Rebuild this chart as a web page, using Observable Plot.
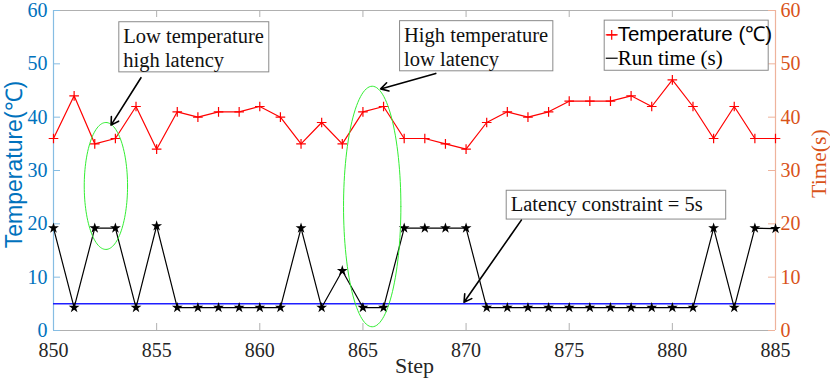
<!DOCTYPE html>
<html>
<head>
<meta charset="utf-8">
<script src="https://cdn.jsdelivr.net/npm/d3@7"></script>
<script src="https://cdn.jsdelivr.net/npm/@observablehq/plot@0.6"></script>
<style>
  html, body { margin: 0; padding: 0; background: #fff; }
  #chart svg { display: block; }
</style>
</head>
<body>
<div id="chart"></div>
<script>
// ---- data ----
const steps = [850,851,852,853,854,855,856,857,858,859,860,861,862,863,864,865,866,867,
               868,869,870,871,872,873,874,875,876,877,878,879,880,881,882,883,884,885];
const temperature = [36,44,35,36,42,34,41,40,41,41,42,40,35,39,35,41,42,36,
                     36,35,34,39,41,40,41,43,43,43,44,42,47,42,36,42,36,36];
const runTime = [19.2,4.3,19.2,19.2,4.3,19.6,4.3,4.3,4.3,4.3,4.3,4.3,19.2,4.3,11.2,4.3,4.3,19.2,
                 19.2,19.2,19.2,4.3,4.3,4.3,4.3,4.3,4.3,4.3,4.3,4.3,4.3,4.3,19.2,4.3,19.2,19.1];
const latencyConstraint = [5];
const xTicks = [850,855,860,865,870,875,880,885];
const leftTicks = [0,10,20,30,40,50,60];
const rightTicks = [0,10,20,30,40,50,60];
const seriesNames = ["Temperature (℃)", "Run time (s)"];
const annotationTexts = ["Low temperature\nhigh latency", "High temperature\nlow latency", "Latency constraint = 5s"];
// highlighted regions: center step, center value, radius in steps, radius in value
const highlightEllipses = [
  {cx: 852.54, cy: 27.1, rx: 1.05, ry: 11.9},
  {cx: 865.45, cy: 23.25, rx: 1.39, ry: 22.55}
];

const tempData = steps.map((s, i) => ({step: s, value: temperature[i]}));
const runData = steps.map((s, i) => ({step: s, value: runTime[i]}));

const angles = d3.range(0, 361, 3).map(a => a * Math.PI / 180);
const ellipsePts = highlightEllipses.flatMap((e, k) =>
  angles.map(t => ({k, step: e.cx + e.rx * Math.cos(t), value: e.cy + e.ry * Math.sin(t)})));

const BLUE = "#0072BD", ORANGE = "#D95319";
const SERIF = "Liberation Serif, Times New Roman, serif";
const SANS = "Liberation Sans, Arial, sans-serif";
const FW = 722, FH = 320; // frame size

const boxes = [
  {x1: 853.19, x2: 860.46, y1: 48.4, y2: 57.8, text: annotationTexts[0]},
  {x1: 866.80, x2: 874.23, y1: 48.6, y2: 58.0, text: annotationTexts[1]},
  {x1: 871.97, x2: 882.61, y1: 20.8, y2: 26.2, text: annotationTexts[2]}
];
const arrows = [
  {x1: 854.24, y1: 47.4, x2: 852.79, y2: 38.5},
  {x1: 868.53, y1: 48.2, x2: 865.86, y2: 45.3},
  {x1: 872.68, y1: 20.7, x2: 869.90, y2: 5.3}
];
const legendBox = {x1: 876.72, x2: 884.67, y1: 48.7, y2: 58.1};

const chart = Plot.plot({
  width: 830,
  height: 385,
  marginLeft: 53,
  marginRight: 55,
  marginTop: 10,
  marginBottom: 55,
  x: {domain: [850, 885]},
  y: {domain: [0, 60]},
  style: {fontFamily: SERIF, fontSize: "20px", background: "#fff", overflow: "visible"},
  marks: [
    // frame top / bottom
    Plot.ruleY([0], {stroke: "#b0b0b0", strokeWidth: 1}),
    Plot.ruleY([60], {stroke: "#b0b0b0", strokeWidth: 1}),
    // inward ticks
    Plot.tickX(xTicks, {x: d => d, stroke: "#b0b0b0", insetTop: FH - 7}),
    Plot.tickX(xTicks, {x: d => d, stroke: "#b0b0b0", insetBottom: FH - 7}),
    Plot.tickY(leftTicks, {y: d => d, stroke: "#86bde3", insetRight: FW - 7}),
    Plot.tickY(rightTicks, {y: d => d, stroke: "#eeb39c", insetLeft: FW - 7}),
    // side axis lines
    Plot.ruleX([850], {stroke: "#86bde3", strokeWidth: 1.2}),
    Plot.ruleX([885], {stroke: "#eeb39c", strokeWidth: 1.2}),
    // axes labels
    Plot.axisX({ticks: xTicks, tickSize: 0, tickPadding: 12, fontSize: 20, fill: "#262626", label: null, fontFamily: SERIF}),
    Plot.axisY({anchor: "left", ticks: leftTicks, tickSize: 0, tickPadding: 6, fontSize: 20, fill: BLUE, label: null, fontFamily: SERIF}),
    Plot.axisY({anchor: "right", ticks: rightTicks, tickSize: 0, tickPadding: 5, fontSize: 20, fill: ORANGE, label: null, fontFamily: SERIF}),
    Plot.text(["Step"], {frameAnchor: "bottom", dy: 42, fontSize: 22, fill: "#262626", fontFamily: SERIF}),
    Plot.text(["Temperature(℃)"], {frameAnchor: "left", textAnchor: "middle", rotate: -90, dx: -39, dy: -6, fontSize: 23, fill: BLUE, fontFamily: SANS}),
    Plot.text(["Time(s)"], {frameAnchor: "right", textAnchor: "middle", rotate: -90, dx: 43, dy: -7, fontSize: 22, fill: ORANGE, fontFamily: SERIF}),
    // constraint
    Plot.ruleY(latencyConstraint, {y: d => d, stroke: "#1f1fff", strokeWidth: 1.5}),
    // series
    Plot.line(tempData, {x: "step", y: "value", stroke: "#ff0000", strokeWidth: 1.2}),
    Plot.dot(tempData, {x: "step", y: "value", symbol: "plus", stroke: "#ff0000", r: 3.2, strokeWidth: 1.2}),
    Plot.line(runData, {x: "step", y: "value", stroke: "#000", strokeWidth: 1.2}),
    Plot.dot(runData, {x: "step", y: "value", symbol: "star", fill: "#000", r: 3.4}),
    // ellipses
    Plot.line(ellipsePts, {x: "step", y: "value", z: "k", stroke: "#33ee33", strokeWidth: 1, curve: "linear"}),
    // annotation boxes
    Plot.rect(boxes, {x1: "x1", x2: "x2", y1: "y1", y2: "y2", fill: "#fff", stroke: "#8a8a8a", strokeWidth: 1}),
    Plot.text(boxes, {x: "x1", y: "y2", text: "text", textAnchor: "start", lineAnchor: "top", dx: 4, dy: 3, lineHeight: 1.2, fontSize: 20.5, fill: "#111", fontFamily: SERIF}),
    Plot.arrow(arrows, {x1: "x1", y1: "y1", x2: "x2", y2: "y2", stroke: "#000", strokeWidth: 1.6, headLength: 8}),
    // legend
    Plot.rect([legendBox], {x1: "x1", x2: "x2", y1: "y1", y2: "y2", fill: "#fff", stroke: "#8a8a8a", strokeWidth: 1}),
    Plot.link([{x1: 876.77, x2: 877.35, y: 55.44}], {x1: "x1", x2: "x2", y1: "y", y2: "y", stroke: "#ff0000", strokeWidth: 1.2}),
    Plot.dot([{x: 877.06, y: 55.44}], {x: "x", y: "y", symbol: "plus", stroke: "#ff0000", r: 3.2, strokeWidth: 1.2}),
    Plot.link([{x1: 876.77, x2: 877.35, y: 51.05}], {x1: "x1", x2: "x2", y1: "y", y2: "y", stroke: "#000", strokeWidth: 1.2}),
    Plot.text([seriesNames[0]], {x: 877.35, y: 55.44, textAnchor: "start", fontSize: 20.5, fill: "#000", fontFamily: SANS}),
    Plot.text([seriesNames[1]], {x: 877.35, y: 51.05, textAnchor: "start", fontSize: 21, fill: "#000", fontFamily: SERIF})
  ]
});
document.getElementById("chart").appendChild(chart);
</script>
</body>
</html>
